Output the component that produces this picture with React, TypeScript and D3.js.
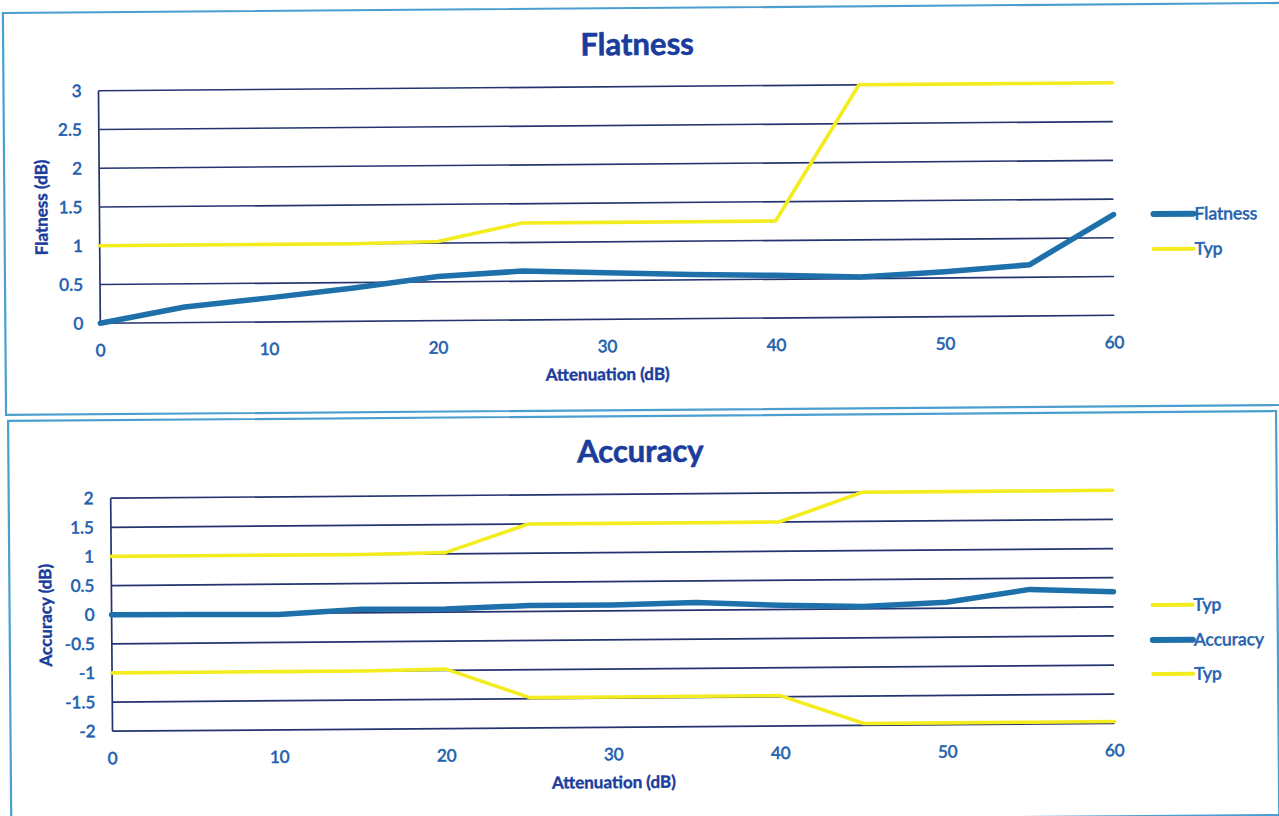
import React, { useEffect } from 'react';
import * as d3 from 'd3';

// x positions (attenuation, dB)
const attenuation = [0, 5, 10, 15, 20, 25, 30, 35, 40, 45, 50, 55, 60];

// Flatness chart
const flatnessValues = [0, 0.2, 0.31, 0.43, 0.57, 0.63, 0.6, 0.57, 0.55, 0.52, 0.58, 0.66, 1.3];
const flatnessTyp = [1, 1, 1, 1, 1.02, 1.25, 1.25, 1.25, 1.25, 3, 3, 3, 3];
const flatnessTicks = [0, 0.5, 1, 1.5, 2, 2.5, 3];

// Accuracy chart
const accuracyValues = [0, -0.01, -0.02, 0.06, 0.05, 0.1, 0.1, 0.13, 0.07, 0.04, 0.1, 0.31, 0.26];
const accuracyTypHigh = [1, 1, 1, 1, 1.02, 1.5, 1.5, 1.5, 1.5, 2, 2, 2, 2];
const accuracyTypLow = [-1, -1, -1, -1, -0.98, -1.48, -1.48, -1.48, -1.48, -1.97, -1.97, -1.97, -1.97];
const accuracyTicks = [-2, -1.5, -1, -0.5, 0, 0.5, 1, 1.5, 2];

const xTicks = [0, 10, 20, 30, 40, 50, 60];

const FONT = 'Lato, "Open Sans", sans-serif';
const GRID = '#25346f';
const TICK_TEXT = '#1f5faf';
const TITLE = '#1a3c9c';
const BLUE = '#1d70aa';
const YELLOW = '#f3ec1f';

interface Series {
  name: string;
  values: number[];
  color: string;
  width: number;
}

interface PanelProps {
  title: string;
  yLabel: string;
  titleY: number;
  x0: number;
  x1: number;
  yTop: number;
  yBottom: number;
  yDomain: [number, number];
  yTicks: number[];
  series: Series[];
  legend: { name: string; color: string; width: number; y: number }[];
  legendX: number;
  yLabelX: number;
}

// a thin outline in the fill colour thickens the text, like the scanned original
const thick = (color: string, w: number) => ({ stroke: color, strokeWidth: w, paintOrder: 'stroke' as const });

const Panel: React.FC<PanelProps> = ({
  title, yLabel, titleY, x0, x1, yTop, yBottom, yDomain, yTicks, series, legend, legendX, yLabelX
}) => {
  const x = d3.scaleLinear().domain([0, 60]).range([x0, x1]);
  const y = d3.scaleLinear().domain(yDomain).range([yBottom, yTop]);
  const line = d3.line<number>()
    .x((_, i) => x(attenuation[i]))
    .y(d => y(d));

  return (
    <g>
      <text x={640} y={titleY} textAnchor="middle" fontFamily={FONT} fontWeight="bold" fontSize={31} fill={TITLE}
        {...thick(TITLE, 0.6)}>
        {title}
      </text>
      {/* gridlines */}
      {yTicks.map(t => (
        <line key={t} x1={x0} x2={x1} y1={y(t)} y2={y(t)} stroke={GRID} strokeWidth={1.7} />
      ))}
      <line x1={x0} x2={x0} y1={yTop} y2={yBottom} stroke={GRID} strokeWidth={1.7} />
      {/* y tick labels */}
      {yTicks.map(t => (
        <text key={t} x={x0 - 17} y={y(t) + 6} textAnchor="end" fontFamily={FONT} fontSize={17} fill={TICK_TEXT}
          {...thick(TICK_TEXT, 0.6)}>
          {t}
        </text>
      ))}
      {/* x tick labels */}
      {xTicks.map(t => (
        <text key={t} x={x(t)} y={yBottom + 33} textAnchor="middle" fontFamily={FONT} fontSize={17} fill={TICK_TEXT}
          {...thick(TICK_TEXT, 0.6)}>
          {t}
        </text>
      ))}
      <text x={(x0 + x1) / 2} y={yBottom + 61} textAnchor="middle" fontFamily={FONT} fontWeight="bold" fontSize={17}
        fill={TITLE} {...thick(TITLE, 0.4)}>
        Attenuation (dB)
      </text>
      <text
        transform={`translate(${yLabelX}, ${(yTop + yBottom) / 2}) rotate(-90)`}
        textAnchor="middle" fontFamily={FONT} fontWeight="bold" fontSize={17} fill={TITLE} {...thick(TITLE, 0.4)}
      >
        {yLabel}
      </text>
      {/* series */}
      {series.map((s, i) => (
        <path key={i} d={line(s.values) || ''} fill="none" stroke={s.color} strokeWidth={s.width}
          strokeLinejoin="round" strokeLinecap="round" />
      ))}
      {/* legend */}
      {legend.map((l, i) => (
        <g key={i}>
          <line x1={legendX} x2={legendX + 40} y1={l.y} y2={l.y} stroke={l.color} strokeWidth={l.width}
            strokeLinecap="round" />
          <text x={legendX + 41} y={l.y + 6} fontFamily={FONT} fontSize={17.5} fill={TICK_TEXT}
            {...thick(TICK_TEXT, 0.6)}>
            {l.name}
          </text>
        </g>
      ))}
    </g>
  );
};

const App: React.FC = () => {
  useEffect(() => {
    document.body.style.margin = '0';
  }, []);

  return (
    <svg width={1279} height={816} style={{ display: 'block', background: '#fff' }}>
      <rect width={1279} height={816} fill="#fff" />
      <g transform="rotate(-0.45, 640, 408)">
        <rect x={6} y={8} width={1290} height={402} fill="#fff" stroke="#4a9fd0" strokeWidth={2.2} />
        <rect x={8} y={416} width={1268} height={404} fill="#fff" stroke="#4a9fd0" strokeWidth={2.2} />
        <Panel
          title="Flatness"
          yLabel="Flatness (dB)"
          titleY={55}
          x0={101}
          x1={1115}
          yTop={86.5}
          yBottom={319}
          yDomain={[0, 3]}
          yTicks={flatnessTicks}
          yLabelX={49}
          series={[
            { name: 'Typ', values: flatnessTyp, color: YELLOW, width: 3.6 },
            { name: 'Flatness', values: flatnessValues, color: BLUE, width: 5.5 }
          ]}
          legendX={1155}
          legend={[
            { name: 'Flatness', color: BLUE, width: 6, y: 218 },
            { name: 'Typ', color: YELLOW, width: 4, y: 253 }
          ]}
        />
        <Panel
          title="Accuracy"
          yLabel="Accuracy (dB)"
          titleY={462}
          x0={110}
          x1={1112}
          yTop={494}
          yBottom={727}
          yDomain={[-2, 2]}
          yTicks={accuracyTicks}
          yLabelX={50}
          series={[
            { name: 'Typ', values: accuracyTypHigh, color: YELLOW, width: 3.6 },
            { name: 'Typ', values: accuracyTypLow, color: YELLOW, width: 3.6 },
            { name: 'Accuracy', values: accuracyValues, color: BLUE, width: 5.5 }
          ]}
          legendX={1151}
          legend={[
            { name: 'Typ', color: YELLOW, width: 4, y: 609 },
            { name: 'Accuracy', color: BLUE, width: 6, y: 644 },
            { name: 'Typ', color: YELLOW, width: 4, y: 678 }
          ]}
        />
      </g>
    </svg>
  );
};

export default App;
